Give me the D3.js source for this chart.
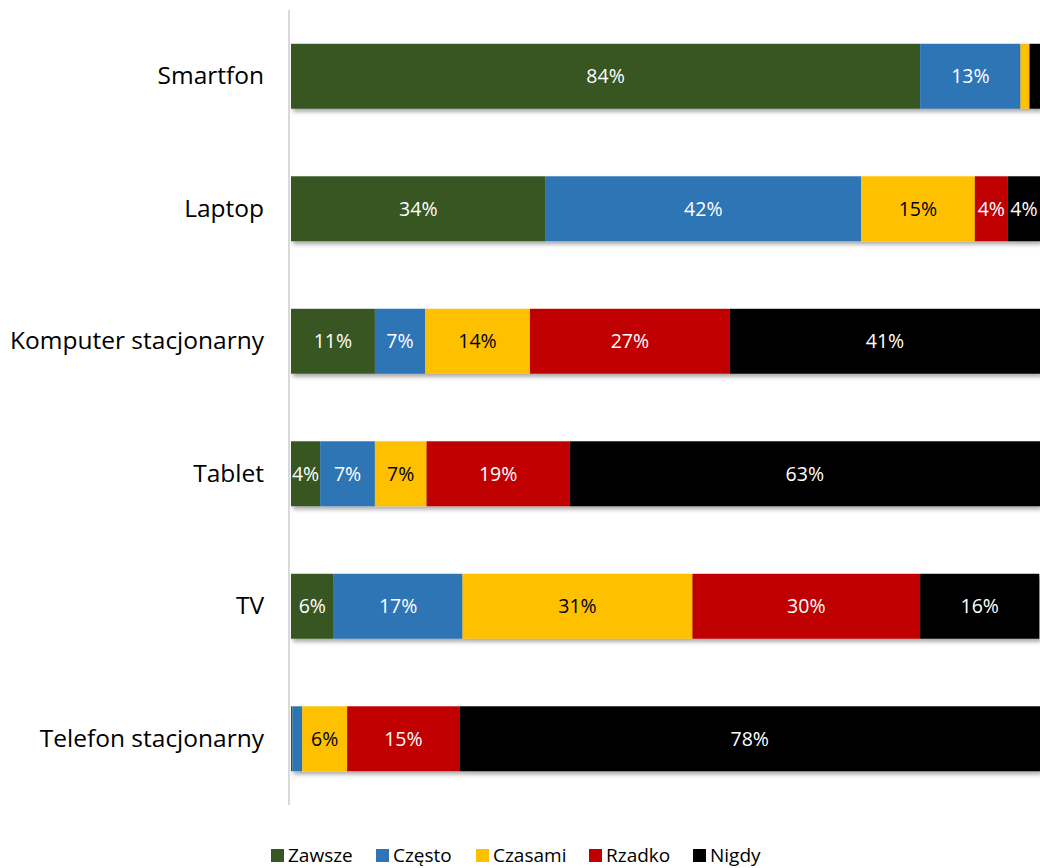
<!DOCTYPE html>
<html>
<head>
<meta charset="utf-8">
<script src="https://cdn.jsdelivr.net/npm/d3@7"></script>
<style>
  body { margin: 0; background: #fff; }
  text { font-family: "Open Sans", sans-serif; }
</style>
</head>
<body>
<script>
// ---------------------------- data -----------------------------------

var devices = ['Smartfon', 'Laptop', 'Komputer stacjonarny', 'Tablet', 'TV', 'Telefon stacjonarny'];
var answers = ['Zawsze', 'Często', 'Czasami', 'Rzadko', 'Nigdy'];
var colors = ['#385723', '#2e75b6', '#ffc000', '#c00000', '#000000'];

var zawsze  = [84.0, 34.0, 11.2, 3.9, 5.7, 0.2];
var czesto  = [13.4, 42.1, 6.7, 7.3, 17.2, 1.3];
var czasami = [1.2, 15.2, 14.0, 6.9, 30.7, 6.0];
var rzadko  = [0.0, 4.4, 26.7, 19.1, 30.4, 15.0];
var nigdy   = [1.4, 4.3, 41.4, 62.8, 15.9, 77.5];

var series = [zawsze, czesto, czasami, rzadko, nigdy];

// ---------------------------- d3 -----------------------------------

var width = 1040, height = 868;
var plotLeft = 291, plotRight = 1040, plotTop = 10, plotBottom = 805;

var rows = devices.map(function(name, i) {
	var row = { name: name };
	answers.forEach(function(a, j) { row[a] = series[j][i]; });
	return row;
});

var stack = d3.stack().keys(answers);
var layers = stack(rows);

var x = d3.scaleLinear().domain([0, 100]).range([plotLeft, plotRight]);
var y = d3.scaleBand().domain(devices).range([plotTop, plotBottom]).paddingInner(0.51).paddingOuter(0.255);
var color = d3.scaleOrdinal().domain(answers).range(colors);

var svg = d3.select('body').append('svg').attr('width', width).attr('height', height);

var defs = svg.append('defs');
var filter = defs.append('filter').attr('id', 'shadow')
	.attr('x', '-5%').attr('y', '-5%').attr('width', '110%').attr('height', '110%');
filter.append('feDropShadow').attr('dx', 2).attr('dy', 3).attr('stdDeviation', 2)
	.attr('flood-color', '#000').attr('flood-opacity', 0.35);

// bars (shadow drawn under each whole bar)
var barGroup = svg.append('g').attr('filter', 'url(#shadow)');
layers.forEach(function(layer) {
	barGroup.selectAll(null).data(layer).enter().append('rect')
		.attr('x', function(d) { return x(d[0]); })
		.attr('y', function(d) { return y(d.data.name); })
		.attr('width', function(d) { return x(d[1]) - x(d[0]); })
		.attr('height', y.bandwidth())
		.attr('fill', color(layer.key));
});

// axis line
svg.append('line')
	.attr('x1', plotLeft - 2).attr('x2', plotLeft - 2)
	.attr('y1', plotTop).attr('y2', plotBottom)
	.attr('stroke', '#d9d9d9').attr('stroke-width', 2);

// category labels
var yAxis = d3.axisLeft(y).tickSize(0).tickPadding(27);
var ya = svg.append('g').attr('transform', 'translate(' + plotLeft + ',0)').call(yAxis);
ya.select('.domain').remove();
ya.selectAll('text').attr('font-size', 24.5).attr('fill', '#000')
	.style('font-family', '"Open Sans", sans-serif');

// value labels
layers.forEach(function(layer, j) {
	svg.selectAll(null).data(layer.filter(function(d) { return d[1] - d[0] >= 3; }))
		.enter().append('text')
		.attr('x', function(d) { return (x(d[0]) + x(d[1])) / 2; })
		.attr('y', function(d) { return y(d.data.name) + y.bandwidth() / 2; })
		.attr('dy', '0.35em')
		.attr('text-anchor', 'middle')
		.attr('font-size', 19.5)
		.attr('fill', layer.key === 'Czasami' ? '#000' : '#fff')
		.text(function(d) { return Math.round(d[1] - d[0]) + '%'; });
});

// legend
var legendX = [271, 376, 476, 589, 693];
var legend = svg.selectAll('.legend').data(answers).enter().append('g')
	.attr('transform', function(d, i) { return 'translate(' + legendX[i] + ',849)'; });
legend.append('rect').attr('width', 13).attr('height', 13)
	.attr('fill', function(d) { return color(d); });
legend.append('text').attr('x', 17).attr('y', 6).attr('dy', '0.35em')
	.attr('font-size', 19).attr('fill', '#000')
	.text(function(d) { return d; });
</script>
</body>
</html>
